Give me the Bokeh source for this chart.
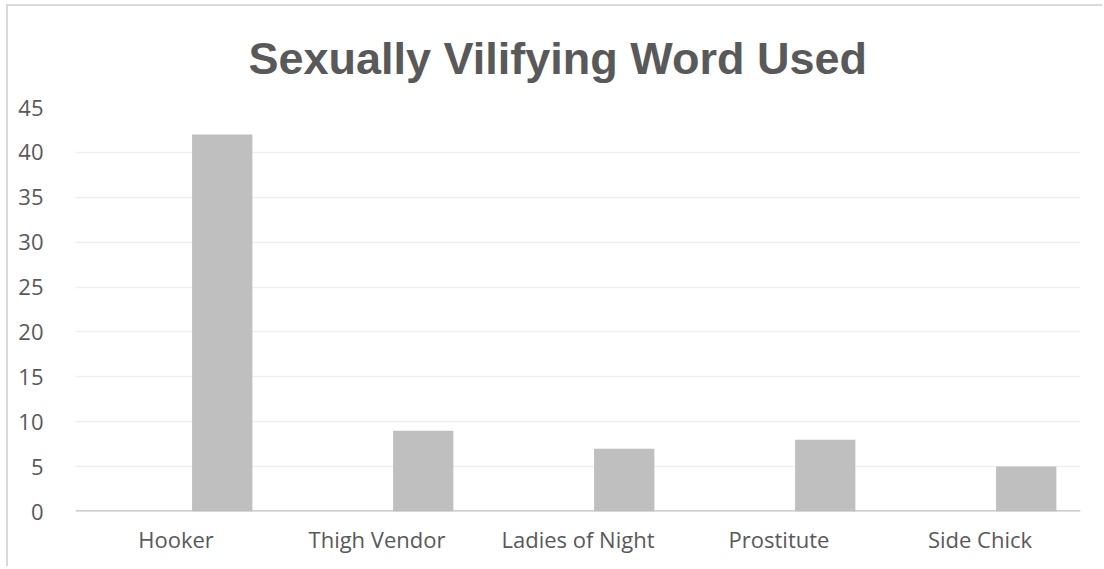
from bokeh.plotting import figure
from bokeh.models import ColumnDataSource, FactorRange, Range1d, FixedTicker, Span
from bokeh.transform import dodge
from bokeh.embed import file_html
from bokeh.resources import INLINE

categories = ["Hooker", "Thigh Vendor", "Ladies of Night", "Prostitute", "Side Chick"]
counts = [42, 9, 7, 8, 5]
y_ticks = [0, 5, 10, 15, 20, 25, 30, 35, 40, 45]

src = ColumnDataSource(data=dict(cat=categories, val=counts))

p = figure(x_range=FactorRange(factors=categories, range_padding=0),
           y_range=Range1d(0, 45),
           width=1096, height=562, output_backend="svg", toolbar_location=None,
           min_border_left=67, min_border_right=24, min_border_top=101, min_border_bottom=57,
           title="Sexually Vilifying Word Used")

p.vbar(x=dodge("cat", 0.23, range=p.x_range), top="val", width=0.30, source=src,
       fill_color="#bfbfbf", line_color=None)

p.title.align = "left"
p.title.text_font = "Liberation Sans"
p.title.text_font_size = "45px"
p.title.text_font_style = "bold"
p.title.text_color = "#595959"
p.title.offset = 173
p.title.standoff = 48

p.outline_line_color = None
p.background_fill_color = "white"
p.border_fill_color = "white"

p.xgrid.grid_line_color = None
p.ygrid.grid_line_color = "#efefef"
p.ygrid.grid_line_width = 1.5

p.yaxis.ticker = FixedTicker(ticks=y_ticks)
p.yaxis.axis_line_color = None
p.yaxis.major_tick_line_color = None
p.yaxis.minor_tick_line_color = None
p.yaxis.major_label_text_font = "Open Sans"
p.yaxis.major_label_text_font_size = "22px"
p.yaxis.major_label_text_color = "#595959"
p.yaxis.major_label_standoff = 26

p.xaxis.axis_line_color = None
p.xaxis.major_tick_line_color = None
p.xaxis.minor_tick_line_color = None
p.xaxis.major_label_text_font = "Open Sans"
p.xaxis.major_label_text_font_size = "22px"
p.xaxis.major_label_text_color = "#595959"
p.xaxis.major_label_standoff = 6

base = Span(location=0, dimension="width", line_color="#bfbfbf", line_width=2.5)
p.add_layout(base)

p.styles = {"border-top": "2px solid #d9d9d9", "border-left": "2px solid #d9d9d9",
            "margin-left": "6px", "margin-top": "4px"}

open("out.html", "w").write(file_html(p, INLINE))
